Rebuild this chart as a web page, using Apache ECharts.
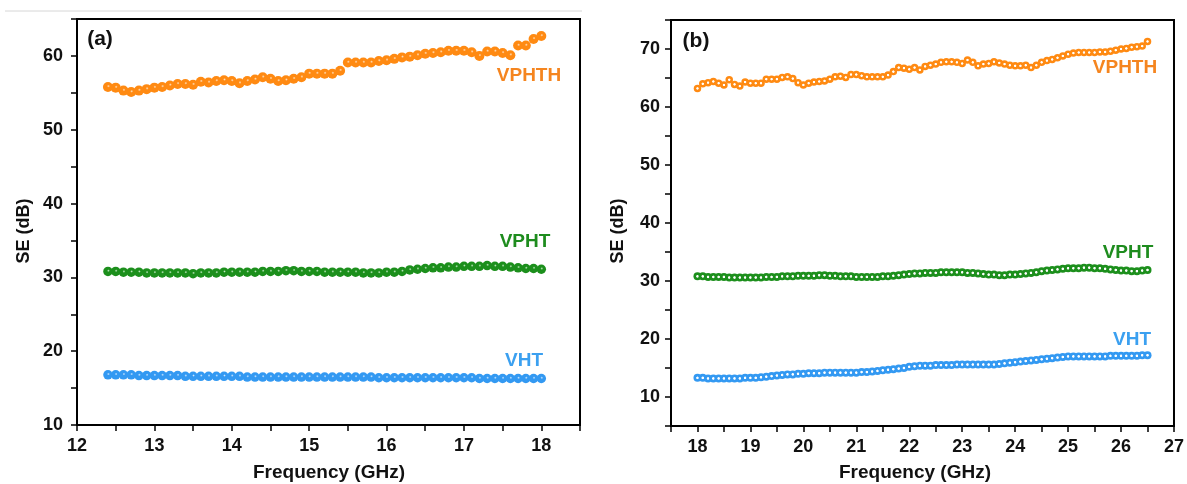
<!DOCTYPE html>
<html>
<head>
<meta charset="utf-8">
<script src="https://cdn.jsdelivr.net/npm/echarts@6/dist/echarts.min.js"></script>
<style>
  html, body { margin: 0; padding: 0; background: #fff; }
  #chart { width: 1187px; height: 484px; }
</style>
</head>
<body>
<div id="chart"></div>
<script>
// panel (a): 12.4 - 18 GHz
const freqA = [12.4,12.5,12.6,12.7,12.8,12.9,13.0,13.1,13.2,13.3,
  13.4,13.5,13.6,13.7,13.8,13.9,14.0,14.1,14.2,14.3,
  14.4,14.5,14.6,14.7,14.8,14.9,15.0,15.1,15.2,15.3,
  15.4,15.5,15.6,15.7,15.8,15.9,16.0,16.1,16.2,16.3,
  16.4,16.5,16.6,16.7,16.8,16.9,17.0,17.1,17.2,17.3,
  17.4,17.5,17.6,17.7,17.8,17.9,18.0];
const vphthA = [55.8,55.7,55.3,55.1,55.3,55.5,55.7,55.8,56.0,56.2,
  56.2,56.1,56.5,56.4,56.6,56.7,56.6,56.3,56.6,56.8,
  57.1,56.9,56.6,56.7,56.9,57.1,57.6,57.6,57.6,57.6,
  58.0,59.1,59.1,59.1,59.1,59.3,59.4,59.6,59.8,59.9,
  60.1,60.3,60.4,60.5,60.7,60.7,60.7,60.5,60.0,60.6,
  60.6,60.4,60.1,61.4,61.4,62.3,62.7];
const vphtA = [30.8,30.8,30.7,30.7,30.7,30.6,30.6,30.6,30.6,30.6,
  30.6,30.5,30.6,30.6,30.6,30.7,30.7,30.7,30.7,30.7,
  30.8,30.8,30.8,30.9,30.9,30.8,30.8,30.8,30.7,30.7,
  30.7,30.7,30.7,30.6,30.6,30.6,30.7,30.7,30.8,31.0,
  31.1,31.2,31.3,31.3,31.4,31.4,31.5,31.5,31.5,31.6,
  31.5,31.5,31.4,31.3,31.2,31.2,31.1];
const vhtA = [16.8,16.8,16.8,16.8,16.7,16.7,16.7,16.7,16.7,16.7,
  16.6,16.6,16.6,16.6,16.6,16.6,16.6,16.6,16.5,16.5,
  16.5,16.5,16.5,16.5,16.5,16.5,16.5,16.5,16.5,16.5,
  16.5,16.5,16.5,16.5,16.5,16.4,16.4,16.4,16.4,16.4,
  16.4,16.4,16.4,16.4,16.4,16.4,16.4,16.4,16.3,16.3,
  16.3,16.3,16.3,16.3,16.3,16.3,16.3];

// panel (b): 18 - 26.5 GHz
const freqB = [18.0,18.1,18.2,18.3,18.4,18.5,18.6,18.7,18.8,18.9,
  19.0,19.1,19.2,19.3,19.4,19.5,19.6,19.7,19.8,19.9,
  20.0,20.1,20.2,20.3,20.4,20.5,20.6,20.7,20.8,20.9,
  21.0,21.1,21.2,21.3,21.4,21.5,21.6,21.7,21.8,21.9,
  22.0,22.1,22.2,22.3,22.4,22.5,22.6,22.7,22.8,22.9,
  23.0,23.1,23.2,23.3,23.4,23.5,23.6,23.7,23.8,23.9,
  24.0,24.1,24.2,24.3,24.4,24.5,24.6,24.7,24.8,24.9,
  25.0,25.1,25.2,25.3,25.4,25.5,25.6,25.7,25.8,25.9,
  26.0,26.1,26.2,26.3,26.4,26.5];
const vphthB = [63.2,64.0,64.2,64.4,64.1,63.8,64.7,63.9,63.6,64.3,
  64.1,64.1,64.1,64.8,64.8,64.8,65.1,65.2,64.9,64.2,
  63.8,64.1,64.3,64.4,64.5,64.8,65.2,65.3,65.1,65.6,
  65.6,65.4,65.2,65.2,65.2,65.2,65.5,66.1,66.8,66.7,
  66.5,66.8,66.4,67.0,67.2,67.4,67.7,67.8,67.8,67.7,
  67.5,68.1,67.7,67.1,67.4,67.5,67.8,67.6,67.4,67.2,
  67.1,67.1,67.2,66.8,67.2,67.7,68.0,68.2,68.5,68.8,
  69.1,69.3,69.4,69.4,69.4,69.4,69.5,69.5,69.6,69.8,
  70.0,70.1,70.3,70.4,70.5,71.3];
const vphtB = [30.8,30.8,30.7,30.7,30.7,30.7,30.6,30.6,30.6,30.6,
  30.6,30.6,30.6,30.7,30.7,30.7,30.8,30.8,30.8,30.9,
  30.9,30.9,30.9,31.0,31.0,30.9,30.9,30.8,30.8,30.8,
  30.7,30.7,30.7,30.7,30.7,30.8,30.8,30.9,31.0,31.1,
  31.2,31.3,31.3,31.4,31.4,31.4,31.5,31.5,31.5,31.5,
  31.5,31.4,31.4,31.3,31.2,31.1,31.1,31.0,31.0,31.1,
  31.1,31.2,31.3,31.4,31.5,31.7,31.8,31.9,32.0,32.1,
  32.2,32.2,32.2,32.3,32.3,32.2,32.2,32.1,32.0,31.9,
  31.8,31.8,31.7,31.7,31.8,31.9];
const vhtB = [13.3,13.3,13.2,13.2,13.2,13.2,13.2,13.2,13.2,13.3,
  13.3,13.3,13.4,13.5,13.6,13.7,13.8,13.9,13.9,14.0,
  14.0,14.1,14.1,14.1,14.2,14.2,14.2,14.2,14.2,14.2,
  14.2,14.3,14.3,14.4,14.5,14.6,14.7,14.8,14.9,15.0,
  15.2,15.3,15.4,15.4,15.4,15.5,15.5,15.5,15.5,15.6,
  15.6,15.6,15.6,15.6,15.6,15.6,15.6,15.7,15.8,15.9,
  16.0,16.1,16.2,16.3,16.4,16.5,16.6,16.7,16.8,16.9,
  17.0,17.0,17.0,17.0,17.0,17.0,17.0,17.0,17.1,17.1,
  17.1,17.1,17.1,17.1,17.2,17.2];

const ORANGE = '#ff8a12';
const GREEN = '#1c8f1c';
const BLUE = '#3399f2';
const FONT = "'Liberation Sans', Arial, sans-serif";

// shaded sphere for panel (a): small soft highlight
function ball(c, tint) {
    return {
        type: 'radial', x: 0.55, y: 0.42, r: 0.5,
        colorStops: [
            { offset: 0, color: tint },
            { offset: 0.3, color: c },
            { offset: 1, color: c }
        ]
    };
}

// small ring with white core for panel (b)
function ring(c) {
    return {
        type: 'radial', x: 0.5, y: 0.5, r: 0.5,
        colorStops: [
            { offset: 0, color: '#ffffff' },
            { offset: 0.22, color: '#ffffff' },
            { offset: 0.42, color: c },
            { offset: 1, color: c }
        ]
    };
}

function pairs(xs, ys) {
    return xs.map((x, i) => [x, ys[i]]);
}

function valueAxis(idx, min, max, labelMargin) {
    return {
        type: 'value',
        gridIndex: idx,
        min: min,
        max: max,
        interval: 5,
        splitLine: { show: false },
        axisLine: { lineStyle: { color: '#000', width: 2 } },
        axisTick: { length: 6, lineStyle: { color: '#000', width: 1.5 } },
        axisLabel: {
            margin: labelMargin,
            color: '#111',
            fontSize: 18,
            fontWeight: 'bold',
            fontFamily: FONT,
            formatter: v => (v % 10 === 0 ? String(v) : '')
        }
    };
}

function freqAxis(idx, min, max) {
    return {
        type: 'value',
        gridIndex: idx,
        min: min,
        max: max,
        interval: 0.5,
        splitLine: { show: false },
        axisLine: { onZero: false, lineStyle: { color: '#000', width: 2 } },
        axisTick: { length: 6, lineStyle: { color: '#000', width: 1.5 } },
        axisLabel: {
            margin: 12,
            color: '#111',
            fontSize: 18,
            fontWeight: 'bold',
            fontFamily: FONT,
            formatter: v => (v % 1 === 0 ? String(v) : '')
        }
    };
}

function dots(name, xi, xs, ys, fill, size) {
    return {
        name: name,
        type: 'scatter',
        xAxisIndex: xi,
        yAxisIndex: xi,
        data: pairs(xs, ys),
        symbol: 'circle',
        symbolSize: size,
        itemStyle: { color: fill, opacity: 1 },
        silent: true
    };
}

function label(text, x, y, color, size, rot) {
    return {
        type: 'text',
        x: x, y: y,
        rotation: rot || 0,
        style: {
            text: text,
            fill: color,
            font: 'bold ' + size + 'px ' + FONT,
            textAlign: 'center',
            textVerticalAlign: 'middle'
        }
    };
}

const chart = echarts.init(document.getElementById('chart'));
chart.setOption({
    backgroundColor: '#fff',
    animation: false,
    grid: [
        { left: 77, top: 19, width: 503, height: 406, show: true, borderColor: '#000', borderWidth: 2 },
        { left: 671, top: 20, width: 506, height: 406, show: true, borderColor: '#000', borderWidth: 2 }
    ],
    xAxis: [freqAxis(0, 12, 18.5), freqAxis(1, 17.5, 27)],
    yAxis: [valueAxis(0, 10, 65, 14), valueAxis(1, 5, 75, 11)],
    series: [
        dots('VPHTH', 0, freqA, vphthA, ball(ORANGE, '#ffe2c2'), 10),
        dots('VPHT', 0, freqA, vphtA, ball(GREEN, '#c8ecc8'), 9.5),
        dots('VHT', 0, freqA, vhtA, ball(BLUE, '#d2e9ff'), 9.5),
        dots('VPHTH', 1, freqB, vphthB, ring(ORANGE), 7.5),
        dots('VPHT', 1, freqB, vphtB, ring(GREEN), 8),
        dots('VHT', 1, freqB, vhtB, ring(BLUE), 8)
    ],
    graphic: [
        { type: 'line', shape: { x1: 5, y1: 11, x2: 582, y2: 11 }, style: { stroke: '#d6d6d6', lineWidth: 1 } },
        label('(a)', 100, 39, '#111', 21),
        label('(b)', 696, 41, '#111', 21),
        label('VPHTH', 529, 76, '#f5851f', 19),
        label('VPHT', 525, 242, '#1e8c1e', 19),
        label('VHT', 524, 361, '#3ba0f0', 19),
        label('VPHTH', 1125, 68, '#f5851f', 19),
        label('VPHT', 1128, 253, '#1e8c1e', 19),
        label('VHT', 1132, 340, '#3ba0f0', 19),
        label('SE (dB)', 24, 231, '#111', 18, Math.PI / 2),
        label('SE (dB)', 618, 231, '#111', 18, Math.PI / 2),
        label('Frequency (GHz)', 329, 473, '#111', 19),
        label('Frequency (GHz)', 915, 473, '#111', 19)
    ]
});
</script>
</body>
</html>
